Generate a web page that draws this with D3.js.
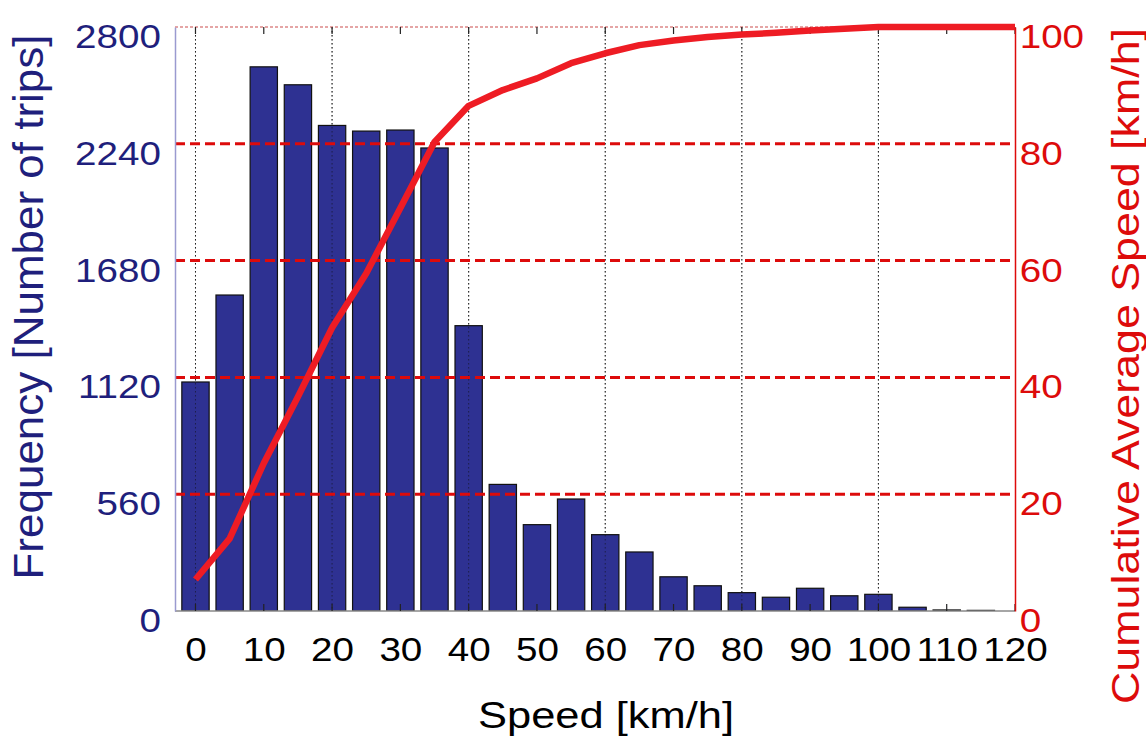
<!DOCTYPE html>
<html>
<head>
<meta charset="utf-8">
<script src="https://cdn.jsdelivr.net/npm/d3@7"></script>
<style>
  html, body { margin: 0; padding: 0; background: #fff; }
  svg { display: block; }
  svg text { font-family: "Liberation Sans", Arial, sans-serif; }
</style>
</head>
<body>
<svg id="chart" width="1146" height="740"></svg>
<script>
// Speed bins (centres, km/h)
const speedBins = [0, 5, 10, 15, 20, 25, 30, 35, 40, 45, 50, 55, 60, 65, 70, 75, 80, 85, 90, 95, 100, 105, 110, 115, 120];
// Number of trips in each bin
const tripCounts = [1098, 1515, 2609, 2523, 2328, 2301, 2306, 2220, 1368, 607, 414, 537, 366, 283, 164, 121, 88, 66, 109, 73, 80, 18, 5, 3, 0];
// Cumulative average speed curve (km/h)
const cumAvgSpeed = [5.4, 12.4, 25.3, 36.7, 48.5, 57.8, 69.0, 80.3, 86.5, 89.2, 91.2, 93.8, 95.5, 96.9, 97.7, 98.3, 98.7, 99.0, 99.4, 99.7, 100, 100, 100, 100, 100];
// Axis ticks
const xTicks = [0, 10, 20, 30, 40, 50, 60, 70, 80, 90, 100, 110, 120];
const xGridTicks = [0, 20, 40, 60, 80, 100];
const leftTicks = [0, 560, 1120, 1680, 2240, 2800];
const rightTicks = [0, 20, 40, 60, 80, 100];
const rightGridTicks = [20, 40, 60, 80];

const FONT = "'Liberation Sans', Arial, sans-serif";
const NAVY = "#1f1f7c";
const BAR = "#2e3192";
const RED = "#dd0b0b";
const LINE = "#ee1c24";
const SX = 1.17; // horizontal stretch of lettering

const svg = d3.select("#chart");
const plot = { left: 175, right: 1015, top: 27, bottom: 611 };

const x = d3.scaleLinear().domain([-3, 120]).range([plot.left, plot.right]);
const yL = d3.scaleLinear().domain([0, 2800]).range([plot.bottom, plot.top]);
const yR = d3.scaleLinear().domain([0, 100]).range([plot.bottom, plot.top]);

const binWidth = 5 * 0.8;

svg.append("defs").append("clipPath").attr("id", "plotClip")
  .append("rect")
  .attr("x", plot.left).attr("y", plot.top - 4)
  .attr("width", plot.right - plot.left).attr("height", plot.bottom - plot.top + 4);

// vertical dotted grid
svg.append("g").selectAll("line").data(xGridTicks).join("line")
  .attr("x1", d => x(d)).attr("x2", d => x(d))
  .attr("y1", plot.top).attr("y2", plot.bottom)
  .attr("stroke", "#333").attr("stroke-width", 1)
  .attr("stroke-dasharray", "1.5,2.5");

// bars
svg.append("g").attr("clip-path", "url(#plotClip)")
  .selectAll("rect").data(speedBins).join("rect")
  .attr("x", (d) => x(d - binWidth / 2))
  .attr("width", (d) => x(d + binWidth / 2) - x(d - binWidth / 2))
  .attr("y", (d, i) => yL(tripCounts[i]))
  .attr("height", (d, i) => yL(0) - yL(tripCounts[i]))
  .attr("fill", BAR)
  .attr("stroke", "#111")
  .attr("stroke-width", 1.2);

// dotted grid also visible on top of the bars
svg.append("g").selectAll("line").data(xGridTicks).join("line")
  .attr("x1", d => x(d)).attr("x2", d => x(d))
  .attr("y1", plot.top).attr("y2", plot.bottom)
  .attr("stroke", "#111").attr("stroke-width", 1).attr("stroke-opacity", 0.55)
  .attr("stroke-dasharray", "1.5,2.5");

// red dashed horizontal grid from the right axis
svg.append("g").selectAll("line").data(rightGridTicks).join("line")
  .attr("x1", plot.left).attr("x2", plot.right)
  .attr("y1", d => yR(d)).attr("y2", d => yR(d))
  .attr("stroke", RED).attr("stroke-width", 3)
  .attr("stroke-dasharray", "10,5");

// frame
svg.append("line")
  .attr("x1", plot.left).attr("x2", plot.right)
  .attr("y1", plot.top).attr("y2", plot.top)
  .attr("stroke", "#d88").attr("stroke-width", 1.5).attr("stroke-dasharray", "3,2");
svg.append("line")
  .attr("x1", plot.left).attr("x2", plot.right)
  .attr("y1", plot.bottom).attr("y2", plot.bottom)
  .attr("stroke", "#888").attr("stroke-width", 1.5);

// top and bottom x ticks (pointing inward)
const tickG = svg.append("g");
tickG.selectAll("line.b").data(xTicks).join("line").attr("class", "b")
  .attr("x1", d => x(d)).attr("x2", d => x(d))
  .attr("y1", plot.bottom).attr("y2", plot.bottom - 7)
  .attr("stroke", "#222").attr("stroke-width", 1.2);
tickG.selectAll("line.t").data(xTicks).join("line").attr("class", "t")
  .attr("x1", d => x(d)).attr("x2", d => x(d))
  .attr("y1", plot.top).attr("y2", plot.top + 7)
  .attr("stroke", "#222").attr("stroke-width", 1.2);

// cumulative average speed line
const line = d3.line()
  .x((d, i) => x(speedBins[i]))
  .y(d => yR(d));
svg.append("path")
  .datum(cumAvgSpeed)
  .attr("d", line)
  .attr("fill", "none")
  .attr("stroke", LINE)
  .attr("stroke-width", 6.5)
  .attr("stroke-linejoin", "round");

// left axis
const leftAxis = svg.append("g")
  .attr("transform", `translate(${plot.left},0)`)
  .call(d3.axisLeft(yL).tickValues(leftTicks).tickFormat(d3.format("d")).tickSize(0).tickPadding(12));
leftAxis.attr("font-family", FONT);
leftAxis.select(".domain").attr("stroke", "#9a9ad0").attr("stroke-width", 1.5);
leftAxis.selectAll("text")
  .attr("fill", NAVY).attr("font-size", 33)
  .attr("dy", "0.62em")
  .attr("transform", `scale(${SX},1)`);

// right axis
const rightAxis = svg.append("g")
  .attr("transform", `translate(${plot.right},0)`)
  .call(d3.axisRight(yR).tickValues(rightTicks).tickFormat(d3.format("d")).tickSize(0).tickPadding(4));
rightAxis.attr("font-family", FONT);
rightAxis.select(".domain").attr("stroke", RED).attr("stroke-width", 1.5);
rightAxis.selectAll("text")
  .attr("fill", RED).attr("font-size", 33)
  .attr("dy", "0.62em")
  .attr("transform", `scale(${SX},1)`);

// bottom axis labels
const bottomAxis = svg.append("g")
  .attr("transform", `translate(0,${plot.bottom})`)
  .call(d3.axisBottom(x).tickValues(xTicks).tickFormat(d3.format("d")).tickSize(0).tickPadding(0));
bottomAxis.attr("font-family", FONT);
bottomAxis.select(".domain").remove();
bottomAxis.selectAll("text")
  .attr("fill", "#000").attr("font-size", 33)
  .attr("x", 0).attr("y", 27).attr("dy", "0.71em")
  .attr("transform", `scale(${SX},1)`);

// axis titles
svg.append("text")
  .attr("x", 606).attr("y", 728)
  .attr("text-anchor", "middle")
  .attr("font-family", FONT)
  .attr("font-size", 36)
  .attr("textLength", 256).attr("lengthAdjust", "spacingAndGlyphs")
  .attr("fill", "#000")
  .text("Speed [km/h]");

svg.append("text")
  .attr("transform", `translate(43,307) rotate(-90) scale(1,${SX})`)
  .attr("text-anchor", "middle")
  .attr("font-family", FONT)
  .attr("font-size", 36)
  .attr("textLength", 545).attr("lengthAdjust", "spacingAndGlyphs")
  .attr("fill", NAVY)
  .text("Frequency [Number of trips]");

svg.append("text")
  .attr("transform", `translate(1139,366) rotate(-90) scale(1,1.1)`)
  .attr("text-anchor", "middle")
  .attr("font-family", FONT)
  .attr("font-size", 36)
  .attr("textLength", 676).attr("lengthAdjust", "spacingAndGlyphs")
  .attr("fill", RED)
  .text("Cumulative Average Speed [km/h]");
</script>
</body>
</html>
